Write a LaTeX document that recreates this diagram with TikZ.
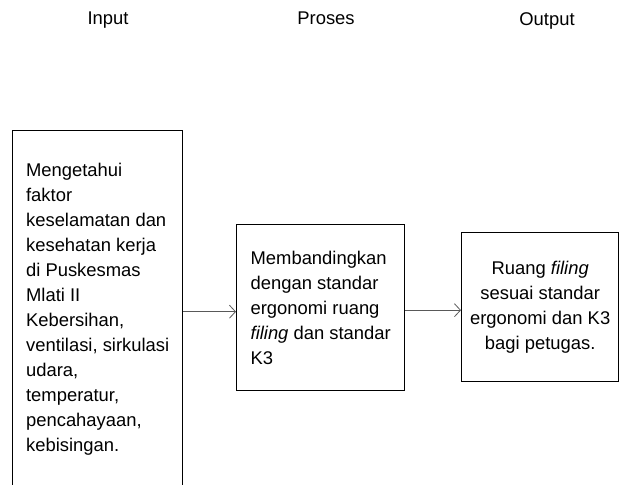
\documentclass[tikz,border=0pt]{standalone}
\usepackage{fontspec}
\setmainfont{Liberation Sans}
\usetikzlibrary{arrows.meta}
\begin{document}
\begin{tikzpicture}[x=1pt,y=-1pt,
  box/.style={draw=black, line width=1.4pt, inner sep=0pt, font=\fontsize{18.4}{25}\selectfont},
  ttl/.style={font=\fontsize{18.4}{22}\selectfont, anchor=base},
  arr/.style={draw=black!65, line width=0.8pt, -{Straight Barb[length=6pt,width=13pt,line width=0.8pt]}}]
\useasboundingbox (0,0) rectangle (620,484);
\node[ttl] (tin) at (108,25) {Input};
\node[ttl] (tpr) at (326,25) {Proses};
\node[ttl] (tout) at (547,26) {Output};
\node[box, anchor=north west, minimum width=170pt, minimum height=358pt, align=left] (left) at (12,130)
  {Mengetahui\\faktor\\keselamatan dan\\kesehatan kerja\\di Puskesmas\\Mlati II\\Kebersihan,\\ventilasi, sirkulasi\\udara,\\temperatur,\\pencahayaan,\\kebisingan.};
\node[box, anchor=north west, minimum width=168pt, minimum height=166pt, align=left] (mid) at (236,224)
  {Membandingkan\\dengan standar\\ergonomi ruang\\\textit{filing} dan standar\\K3};
\node[box, anchor=north west, minimum width=157pt, minimum height=149pt, align=center] (right) at (461,232)
  {Ruang \textit{filing}\\sesuai standar\\ergonomi dan K3\\bagi petugas.};
\draw[arr] ([yshift=-4pt]mid.west -| left.east) -- ([yshift=-4pt]mid.west);
\draw[arr] ([yshift=-3pt]right.west -| mid.east) -- ([yshift=-3pt]right.west);
\end{tikzpicture}
\end{document}
